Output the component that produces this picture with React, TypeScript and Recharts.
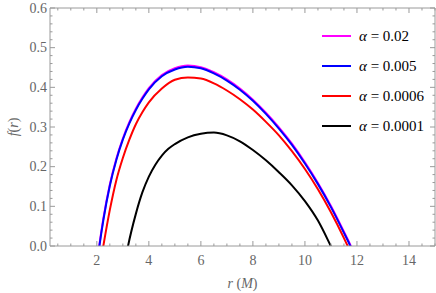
import { LineChart, Line, XAxis, YAxis } from "recharts";

// r values (in M) where each curve was read
const rBlueMagenta = [2.0, 2.1, 2.25, 2.5, 2.75, 3.0, 3.25, 3.5, 3.75, 4.0, 4.5, 5.0, 5.5, 6.0, 6.5, 7.0, 7.5, 8.0, 8.5, 9.0, 9.5, 10.0, 10.5, 11.0, 11.5, 11.75, 12.0];
const fMagenta = [-0.045, 0.004, 0.069, 0.155, 0.22, 0.271, 0.312, 0.346, 0.374, 0.398, 0.431, 0.448, 0.455, 0.451, 0.438, 0.42, 0.397, 0.369, 0.336, 0.299, 0.258, 0.211, 0.159, 0.101, 0.036, 0.002, -0.04];
const fBlue = [-0.05, 0.0, 0.065, 0.152, 0.217, 0.268, 0.309, 0.343, 0.371, 0.395, 0.428, 0.445, 0.452, 0.448, 0.435, 0.417, 0.394, 0.366, 0.333, 0.296, 0.255, 0.208, 0.156, 0.098, 0.033, -0.001, -0.045];

const rRed = [2.0, 2.25, 2.5, 2.75, 3.0, 3.25, 3.5, 3.75, 4.0, 4.5, 5.0, 5.5, 6.0, 6.5, 7.0, 7.5, 8.0, 8.5, 9.0, 9.5, 10.0, 10.5, 11.0, 11.5, 11.75];
const fRed = [-0.1, 0.0, 0.091, 0.166, 0.222, 0.268, 0.307, 0.337, 0.362, 0.397, 0.419, 0.425, 0.422, 0.41, 0.392, 0.37, 0.344, 0.313, 0.279, 0.239, 0.194, 0.143, 0.085, 0.02, -0.015];

const rBlack = [3.0, 3.2, 3.5, 3.75, 4.0, 4.25, 4.5, 4.75, 5.0, 5.5, 6.0, 6.5, 7.0, 7.5, 8.0, 8.5, 9.0, 9.5, 10.0, 10.5, 11.0, 11.25];
const fBlack = [-0.07, 0.0, 0.081, 0.135, 0.175, 0.205, 0.228, 0.245, 0.257, 0.274, 0.283, 0.286, 0.279, 0.264, 0.242, 0.216, 0.186, 0.153, 0.113, 0.064, -0.001, -0.035];

const alphaLabels = ["0.02", "0.005", "0.0006", "0.0001"];
const colors = ["#ff00ff", "#0000ff", "#ff0000", "#000000"];

const xMajorTicks = [2, 4, 6, 8, 10, 12, 14];
const yMajorTicks = [0, 0.1, 0.2, 0.3, 0.4, 0.5, 0.6];

const zip = (rs: number[], fs: number[]) => rs.map((r, i) => ({ r, f: fs[i] }));

const series = [
  zip(rBlueMagenta, fMagenta),
  zip(rBlueMagenta, fBlue),
  zip(rRed, fRed),
  zip(rBlack, fBlack),
];

// minor ticks like Mathematica's frame
const xTicks: number[] = [];
for (let i = 1; i <= 30; i++) xTicks.push(i * 0.5);
const yTicks: number[] = [];
for (let i = 0; i <= 30; i++) yTicks.push(Math.round(i * 2) / 100);

const AXIS = "#9a9a9a";
const TEXT = "#666666";
const FONT = "'Liberation Serif', 'Times New Roman', serif";

const isMajor = (v: number, majors: number[]) => majors.some((m) => Math.abs(m - v) < 1e-6);

function BottomTick(props: any) {
  const { x, y, payload } = props;
  const major = isMajor(payload.value, xMajorTicks);
  return (
    <g>
      <line x1={x} x2={x} y1={y} y2={y - (major ? 5 : 2.5)} stroke={AXIS} />
      {major && (
        <text x={x} y={y + 14} textAnchor="middle" dominantBaseline="central" fill={TEXT} fontSize={14} fontFamily={FONT}>
          {payload.value}
        </text>
      )}
    </g>
  );
}

function TopTick(props: any) {
  const { x, y, payload } = props;
  const major = isMajor(payload.value, xMajorTicks);
  return <line x1={x} x2={x} y1={y} y2={y + (major ? 5 : 2.5)} stroke={AXIS} />;
}

function LeftTick(props: any) {
  const { x, y, payload } = props;
  const major = isMajor(payload.value, yMajorTicks);
  return (
    <g>
      <line x1={x} x2={x + (major ? 5 : 2.5)} y1={y} y2={y} stroke={AXIS} />
      {major && (
        <text x={x - 3} y={y} textAnchor="end" dominantBaseline="central" fill={TEXT} fontSize={14} fontFamily={FONT}>
          {payload.value.toFixed(1)}
        </text>
      )}
    </g>
  );
}

function RightTick(props: any) {
  const { x, y, payload } = props;
  const major = isMajor(payload.value, yMajorTicks);
  return <line x1={x} x2={x - (major ? 5 : 2.5)} y1={y} y2={y} stroke={AXIS} />;
}

function LegendBox() {
  return (
    <div style={{ position: "absolute", left: 322, top: 21, fontFamily: FONT, fontSize: 15, color: "#000" }}>
      {alphaLabels.map((a, i) => (
        <div key={a} style={{ display: "flex", alignItems: "center", height: 30, whiteSpace: "nowrap" }}>
          <div style={{ width: 29, height: 2, background: colors[i], marginRight: 8 }} />
          <span>
            <i>α</i> = {a}
          </span>
        </div>
      ))}
    </div>
  );
}

export default function App() {
  return (
    <div style={{ position: "absolute", left: 0, top: 0, width: 436, height: 293 }}>
      <LineChart width={436} height={293} margin={{ top: 7, right: 0, bottom: 0, left: 0 }}>
        <XAxis
          xAxisId="b"
          type="number"
          dataKey="r"
          domain={[0.2, 15]}
          allowDataOverflow
          ticks={xTicks}
          interval={0}
          height={47}
          stroke={AXIS}
          tickLine={false}
          tickSize={0}
          tickMargin={0}
          tick={<BottomTick />}
          label={(p: any) => {
            const vb = p.viewBox;
            return (
              <text x={vb.x + vb.width / 2} y={vb.y + 37} textAnchor="middle" dominantBaseline="central" fill={TEXT} fontSize={14} fontFamily={FONT}>
                <tspan fontStyle="italic">r</tspan> (<tspan fontStyle="italic">M</tspan>)
              </text>
            );
          }}
        />
        <XAxis
          xAxisId="t"
          orientation="top"
          type="number"
          dataKey="r"
          domain={[0.2, 15]}
          allowDataOverflow
          ticks={xTicks}
          interval={0}
          height={1}
          stroke={AXIS}
          tickLine={false}
          tickSize={0}
          tickMargin={0}
          tick={<TopTick />}
        />
        <YAxis
          yAxisId="l"
          type="number"
          domain={[0, 0.6]}
          allowDataOverflow
          ticks={yTicks}
          interval={0}
          width={50}
          stroke={AXIS}
          tickLine={false}
          tickSize={0}
          tickMargin={0}
          tick={<LeftTick />}
          label={(p: any) => {
            const vb = p.viewBox;
            const cy = vb.y + vb.height / 2;
            return (
              <text x={13} y={cy} transform={`rotate(-90, 13, ${cy})`} textAnchor="middle" dominantBaseline="central" fill={TEXT} fontSize={14} fontFamily={FONT}>
                <tspan fontStyle="italic">f</tspan>(<tspan fontStyle="italic">r</tspan>)
              </text>
            );
          }}
        />
        <YAxis
          yAxisId="r"
          orientation="right"
          type="number"
          domain={[0, 0.6]}
          allowDataOverflow
          ticks={yTicks}
          interval={0}
          width={1}
          stroke={AXIS}
          tickLine={false}
          tickSize={0}
          tickMargin={0}
          tick={<RightTick />}
        />
        {series.map((d, i) => (
          <Line
            key={alphaLabels[i]}
            xAxisId="b"
            yAxisId="l"
            data={d}
            dataKey="f"
            name={`α = ${alphaLabels[i]}`}
            type="monotone"
            stroke={colors[i]}
            strokeWidth={2}
            dot={false}
            isAnimationActive={false}
          />
        ))}
      </LineChart>
      <LegendBox />
    </div>
  );
}
